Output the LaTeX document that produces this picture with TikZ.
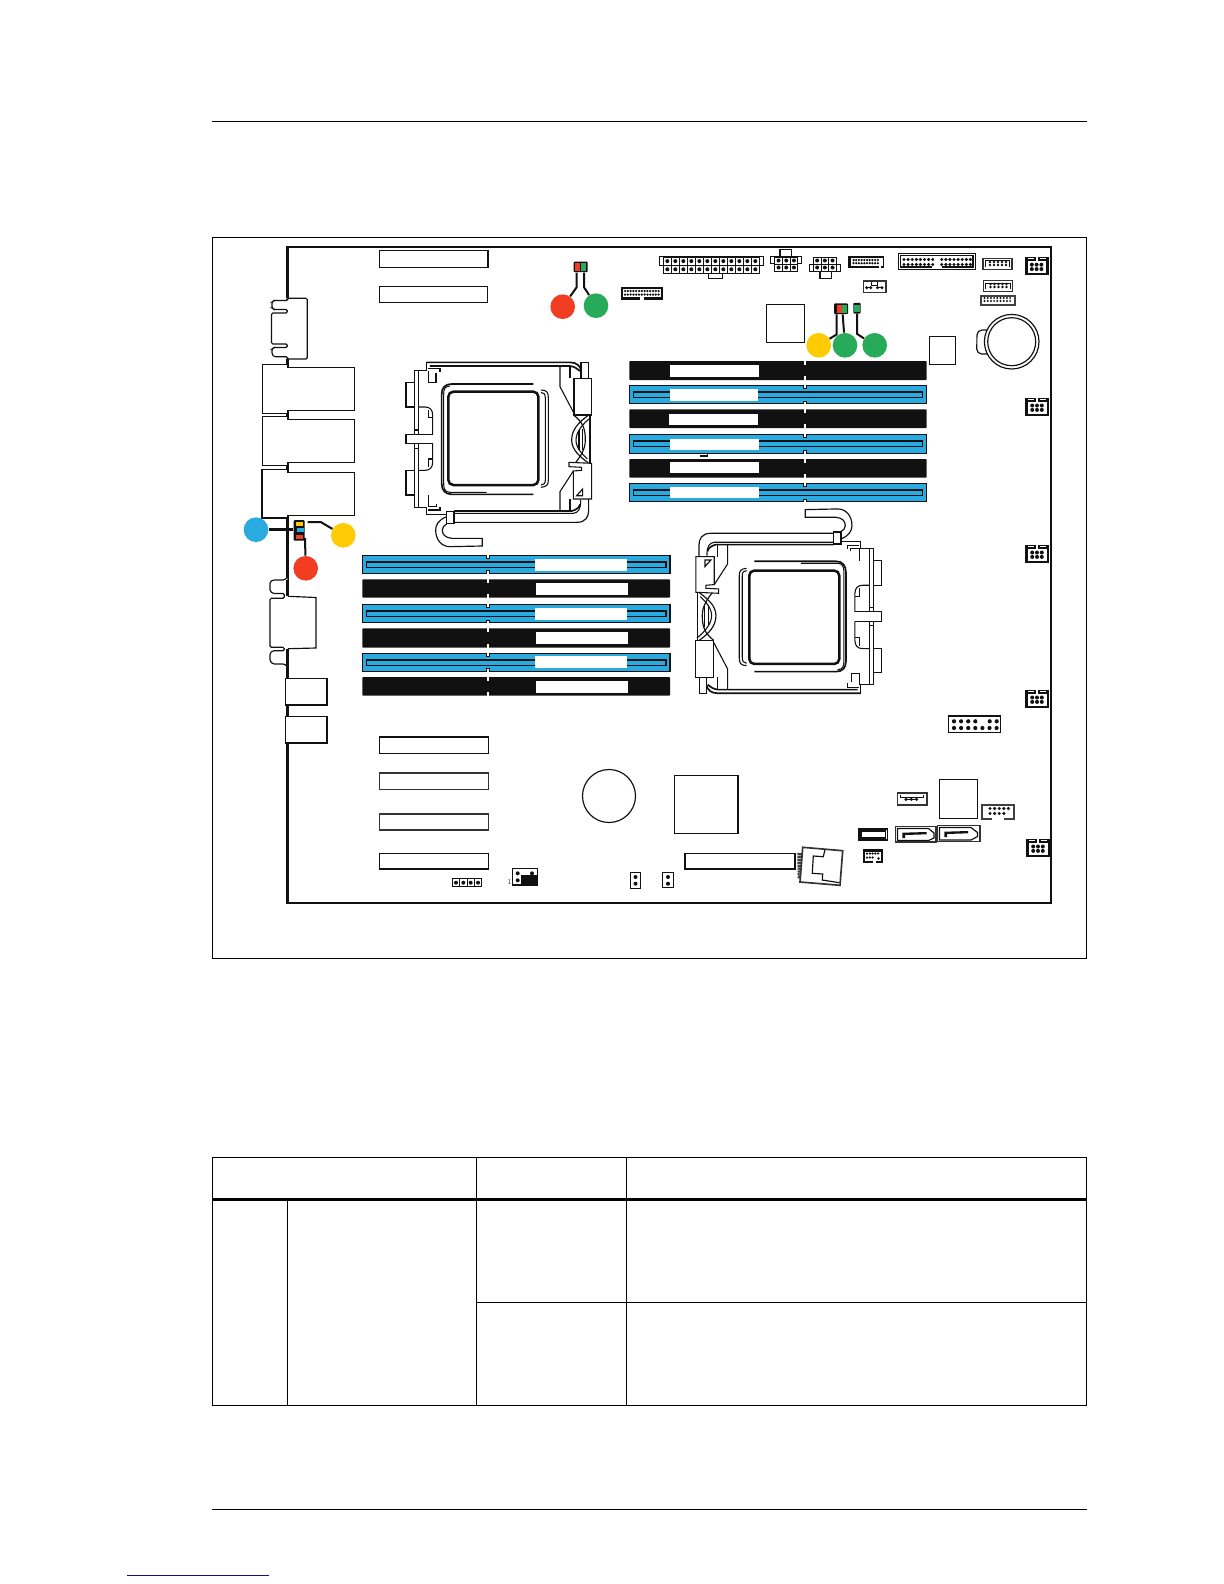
\documentclass[tikz,border=0pt]{standalone}
\usetikzlibrary{calc}
\definecolor{cblue}{RGB}{41,171,226}
\definecolor{cred}{RGB}{241,62,34}
\definecolor{cgreen}{RGB}{39,170,90}
\definecolor{cyel}{RGB}{255,203,5}
\definecolor{cblk}{RGB}{17,17,17}
\definecolor{cnavy}{RGB}{10,20,130}
\tikzset{
  rule/.style={line width=.75pt,draw=black},
  tbl/.style={line width=.75pt,draw=black},
  boardl/.style={line width=1.6pt,draw=cblk},
  thinl/.style={line width=.45pt,draw=cblk},
  midl/.style={line width=.7pt,draw=cblk},
  thickl/.style={line width=1.1pt,draw=cblk},
  grayl/.style={line width=.95pt,draw=black!80},
  sk/.style={line width=.65pt,draw=cblk},
  skb/.style={line width=1pt,draw=cblk},
  lead/.style={line width=1.2pt,draw=cblk},
  callout/.style={circle,minimum size=14.8pt,inner sep=0pt,draw=none},
  ledbox/.style={rectangle,minimum width=#1,minimum height=6.4pt,inner sep=0pt,fill=cblk,rounded corners=.6pt},
  ledbox/.default=8pt,
}
% grid of cells with a pin in each
\newcommand{\cellgrid}[6]{\foreach \i in {1,...,#3}{\foreach \j in {1,...,#4}{%
  \draw[thinl,fill=white] ({#1+(\i-1)*#5},{#2+(\j-1)*#6}) rectangle ++(#5,#6);
  \fill[cblk] ({#1+(\i-.5)*#5},{#2+(\j-.5)*#6}) circle (2);}}}
% pins only: first centre, counts, pitch, radius
\newcommand{\pinset}[7]{\foreach \i in {1,...,#3}{\foreach \j in {1,...,#4}{%
  \fill[cblk] ({#1+(\i-1)*#5},{#2+(\j-1)*#6}) circle (#7);}}}
% fan header, top-left corner
\newcommand{\fanh}[2]{%
  \fill[cblk] (#1,#2) rectangle ++(23.5,18.5);
  \fill[white] ({#1+2.6},{#2+4.2}) rectangle ++(18.6,12);
  \fill[white] ({#1+10.6},{#2}) rectangle ++(2.2,4.4);
  \fill[white] ({#1+3},{#2+1.4}) rectangle ++(6,.8);
  \fill[white] ({#1+14.5},{#2+1.4}) rectangle ++(6,.8);
  \pinset{#1+6.8}{#2+8}{3}{2}{4.8}{4.4}{2}}
% black DIMM  x0 x1 y0 y1 notch  label-x0 label-x1 label-y0 label-y1
\newcommand{\blackdimm}[9]{%
  \fill[cblk,rounded corners=.5pt] (#1,#3) rectangle (#2,#4);
  \fill[white] ({#5-.8},#3) rectangle ({#5+.8},{#3+3.6});
  \fill[white] ({#5-.8},#4) rectangle ({#5+.8},{#4-3.6});
  \fill[white] (#6,#8) rectangle (#7,#9);}
\newcommand{\bluedimm}[9]{%
  \draw[line width=.8pt,draw=cblk,fill=cblue] (#1,#3) rectangle (#2,#4);
  \draw[midl,fill=cblue] ({#1+4},{#3+6.7}) rectangle ({#2-4},{#3+12});
  \draw[thinl,fill=white] ({#5-1.3},{#3-.6}) -- ({#5-1.3},{#3+2.6}) -- ({#5+1.3},{#3+2.6}) -- ({#5+1.3},{#3-.6});
  \draw[thinl,fill=white] ({#5-1.3},{#4+.6}) -- ({#5-1.3},{#4-2.6}) -- ({#5+1.3},{#4-2.6}) -- ({#5+1.3},{#4+.6});
  \fill[white] (#6,#8) rectangle (#7,#9);}
% CPU socket, drawn in crop coordinates
\newcommand{\sockpic}{%
  \draw[skb] (590,382) -- (1020,382) .. controls (1040,382) and (1050,393) .. (1053,405);
  \draw[skb] (600,393) -- (1020,393) .. controls (1032,395) and (1042,400) .. (1050,408);
  \draw[sk] (590,382) -- (590,407) -- (553,407) -- (553,817) -- (590,817) -- (590,838) -- (650,838);
  \draw[sk] (565,407) -- (565,817);
  \draw[sk] (553,585) rectangle (565,640);
  \draw[sk] (595,400) -- (630,400) -- (630,412);
  \draw[sk] (595,407) -- (595,442) -- (618,442) -- (618,415);
  \draw[sk] (595,780) -- (595,815) -- (620,815) -- (620,808);
  \draw[sk] (595,825) -- (630,825) -- (630,815);
  \draw[sk] (553,443) -- (528,443) -- (528,516) -- (553,516);
  \draw[sk] (553,706) -- (528,706) -- (528,780) -- (553,780);
  \draw[sk,fill=white] (608,598) -- (528,598) -- (528,626) -- (608,626);
  \draw[sk] (565,516) -- (585,516) .. controls (600,516) and (608,525) .. (608,540) -- (608,598);
  \draw[sk] (565,706) -- (585,706) .. controls (600,706) and (608,697) .. (608,682) -- (608,626);
  \draw[sk] (595,525) -- (595,548) -- (608,548);
  \draw[sk] (595,697) -- (595,672) -- (608,672);
  % heat-spreader outline
  \draw[skb] (910,447) -- (665,447) .. controls (645,447) and (635,458) .. (635,478) -- (635,745) .. controls (635,765) and (645,778) .. (665,778) -- (910,778);
  \draw[sk] (660,453) .. controls (645,453) and (641,462) .. (641,478) -- (641,745) .. controls (641,762) and (645,772) .. (660,772) -- (770,772);
  \draw[sk] (933,465) .. controls (950,465) and (955,472) .. (955,488) -- (955,735) .. controls (955,750) and (950,755) .. (933,757);
  \draw[sk] (933,472) .. controls (942,472) and (946,478) .. (946,490) -- (946,735) .. controls (946,745) and (942,750) .. (933,750);
  \draw[line width=1.5pt,draw=cblk,rounded corners=3pt] (655,470) rectangle (925,750);
  % right side and levers
  \draw[sk] (990,393) -- (990,455) -- (1032,535);
  \draw[sk] (1020,393) -- (1020,430);
  \draw[sk,fill=white] (1053,382) rectangle (1075,430);
  \draw[sk,fill=white] (1032,430) rectangle (1085,540);
  \draw[sk] (1080,540) -- (1080,684);
  \draw[sk] (1047,585) -- (1047,646);
  \draw[sk] (1058,582) -- (1058,646);
  \draw[midl] (1032,541) .. controls (1058,562) and (1066,580) .. (1066,615) .. controls (1066,645) and (1050,665) .. (1036,684);
  \draw[midl] (1075,541) .. controls (1045,562) and (1025,585) .. (1025,615) .. controls (1025,645) and (1050,665) .. (1075,684);
  \draw[sk] (1082,548) .. controls (1060,565) and (1038,590) .. (1038,615) .. controls (1038,640) and (1058,658) .. (1072,672);
  \draw[sk,fill=white] (1017,682) -- (1085,685) -- (1085,792) -- (1030,792) -- (1030,708) -- (1055,706) -- (1055,697) -- (1017,695) -- cycle;
  \draw[sk] (1030,708) -- (990,770) -- (990,828);
  \draw[sk] (1020,792) -- (1020,828);
  \draw[midl] (1040,782) -- (1058,762) -- (1058,782) -- cycle;
  % bottom bar and handle
  \draw[skb] (672,828) -- (1025,828) .. controls (1038,825) and (1048,818) .. (1050,808);
  \draw[sk] (672,835) -- (1030,835) .. controls (1045,832) and (1052,825) .. (1052,795);
  \draw[midl] (672,862) -- (1040,862) .. controls (1068,862) and (1076,845) .. (1076,825) -- (1076,792);
  \draw[midl,fill=white] (650,830) rectangle (672,866);
  \draw[midl] (650,845) .. controls (625,855) and (617,870) .. (617,885) .. controls (617,915) and (635,935) .. (660,935) -- (757,933) -- (757,910) -- (665,910) .. controls (645,908) and (637,898) .. (637,885) .. controls (637,878) and (642,870) .. (650,867);
}
\begin{document}
\begin{tikzpicture}[x=.6pt,y=-.6pt]
\useasboundingbox (0,0) rectangle (1224,1584);
\fill[white] (0,0) rectangle (1224,1584);
% page rules
\draw[rule] (212,121.3) -- (1087,121.3);
\draw[rule] (212,1509.3) -- (1087,1509.3);
\draw[line width=.85pt,draw=cnavy] (127,1575.3) -- (269,1575.3);
% figure frame
\draw[line width=.65pt,draw=black] (212.3,237.3) rectangle (1086.7,958.3);
% board outline
\draw[boardl] (287.8,298.3) -- (287.8,247) -- (1051,247) -- (1051,903) -- (287.8,903) -- (287.8,743.3);
\draw[boardl] (287.8,359) -- (287.8,367.3);
\draw[boardl] (287.8,410.3) -- (287.8,419.7);
\draw[boardl] (287.8,462.7) -- (287.8,472.3);
\draw[boardl] (287.8,515.7) -- (287.8,580);
\draw[boardl] (287.8,664) -- (287.8,678.3);
\draw[boardl] (287.8,705) -- (287.8,716.7);
% rear connectors
\draw[midl,fill=white,rounded corners=.8pt] (287.3,298.3) -- (307.3,298.3) -- (307.3,359) -- (287.3,359) -- (287.3,356.7) -- (274,356.7) -- (272,354) -- (272,349) -- (274,347.5) -- (287.3,347.5) -- (287.3,344) -- (271.5,344) -- (271.5,313) -- (287.3,313) -- (287.3,309.5) -- (274,309.5) -- (272,308) -- (272,302) -- (274,300.5) -- (287.3,300.5) -- cycle;
\foreach \a/\b/\c/\d in {364.3/367.3/410.3/413.3, 416.7/419.7/462.7/465.3, 469.3/472.3/515.7/518.3}{
  \draw[midl,fill=white] (262.3,\a) -- (287.3,\a) -- (287.3,\b) -- (354.3,\b) -- (354.3,\c) -- (287.3,\c) -- (287.3,\d) -- (262.3,\d) -- cycle;}
\draw[thickl] (262.3,469.3) -- (262.3,518.3) -- (287.3,518.3);
\draw[midl,fill=white,rounded corners=.8pt] (287.3,577.5) -- (284.3,580) -- (273,580) -- (270,582) -- (270,591) -- (273,593.5) -- (284.3,593.5) -- (284.3,598.3) -- (270,598.3) -- (270,647.3) -- (284.3,647.3) -- (284.3,650.7) -- (273,650.7) -- (270,653) -- (270,661) -- (273,664) -- (284.3,664) -- (287.3,666.5);
\draw[midl,fill=white] (287.8,596.3) -- (316,597.5) -- (316,648) -- (287.8,648.7);
\draw[boardl] (287.8,580) -- (287.8,596);
\draw[boardl] (287.8,649) -- (287.8,666);
\draw[thinl,fill=white] (285.7,678.3) rectangle (327.3,705);
\draw[thickl] (327.3,678.3) -- (327.3,705) -- (285.7,705);
\draw[thinl,fill=white] (285.7,716.7) rectangle (327.3,743.3);
\draw[thickl] (327.3,716.7) -- (327.3,743.3) -- (285.7,743.3);
% slots
\draw[line width=.95pt,draw=cblk,fill=white] (379.7,250.7) rectangle (488,267.3);
\draw[midl,fill=white] (379.7,286.3) rectangle (487.7,302.3);
\draw[line width=.95pt,draw=cblk,fill=white] (379.3,736.7) rectangle (488.7,753.3);
\draw[grayl,fill=white] (379.3,772.7) rectangle (488.7,789.3);
\draw[grayl,fill=white] (379.3,813.7) rectangle (488.7,829.7);
\draw[line width=.95pt,draw=cblk,fill=white] (379.3,853.3) rectangle (488.7,869);
\draw[line width=.95pt,draw=cblk,fill=white] (685,853.3) rectangle (795,869);
% sockets
\begin{scope}[shift={(230,235)},x=.2pt,y=-.2pt]\sockpic\end{scope}
\begin{scope}[shift={(1057.6,820.6)},x=-.2pt,y=.2pt]\sockpic\end{scope}
% upper DIMMs
\blackdimm{629.3}{926.7}{361}{380}{805}{670}{758.7}{365}{377}
\bluedimm{629.3}{926.7}{385.3}{403.7}{805}{670}{757.7}{389}{401}
\blackdimm{629.3}{926.7}{409.3}{428}{805}{669}{757.7}{414}{425}
\bluedimm{629.3}{926.7}{434.3}{453.3}{805}{670}{758.7}{439}{450}
\blackdimm{629.3}{926.7}{459}{477.7}{805}{670}{758.7}{462}{473}
\bluedimm{629.3}{926.7}{483.3}{501.7}{805}{670}{758.7}{486.7}{498}
\draw[midl] (700,456) -- (707.5,456) -- (707.5,453.6);
% lower DIMMs
\bluedimm{362.3}{670}{555.3}{573.3}{487.7}{534.5}{627}{558.7}{570.5}
\blackdimm{362.3}{670}{579.3}{597.7}{487.7}{535.5}{628}{583}{595}
\bluedimm{362.3}{670}{604.3}{622.7}{487.7}{534.5}{627}{608}{620}
\blackdimm{362.3}{670}{628.3}{647.7}{487.7}{535.5}{628}{632}{644}
\bluedimm{362.3}{670}{653.3}{671.3}{487.7}{534.5}{627}{656}{668}
\blackdimm{362.3}{670}{677}{695.7}{487.7}{535.5}{628}{680.5}{692.5}
% top connectors
\draw[thinl,fill=white] (659.3,256.3) rectangle (763.3,265);
\draw[midl,fill=white] (708.3,273) rectangle (722.7,278.3);
\cellgrid{663.3}{257}{12}{2}{8}{8.2}
\draw[midl,fill=white] (780,249.7) rectangle (791.7,256.5);
\draw[thinl,fill=white] (770.7,256.3) rectangle (801.3,263.3);
\cellgrid{774.7}{257}{3}{2}{7.7}{7}
\draw[midl,fill=white] (820,271) rectangle (831.7,278.3);
\draw[thinl,fill=white] (809.3,264) rectangle (840.7,271);
\cellgrid{813.3}{257}{3}{2}{7.7}{7}
\fill[cblk] (848.3,256.3) rectangle (884,268.3);
\fill[white] (851,258) rectangle (882.5,266);
\fill[white] (878.5,258) rectangle (880.5,268.3);
\pinset{853.5}{260}{10}{2}{2.7}{3.2}{1.25}
\fill[cblk] (621,287) rectangle (662.7,300);
\fill[white] (622.8,288.8) rectangle (661,297);
\fill[white] (640,296) rectangle (644,300);
\pinset{625}{291}{13}{2}{2.8}{3.6}{1.25}
\draw[line width=.5pt,draw=cblk,fill=white] (898.3,253.3) rectangle (975.7,269.3);
\draw[midl] (931.7,267) -- (900.9,267) -- (900.9,255.9) -- (973,255.9) -- (973,267) -- (941.7,267);
\pinset{904}{259.5}{8}{2}{4.1}{5}{1.7}
\pinset{941.7}{259.5}{8}{2}{4.1}{5}{1.7}
\draw[grayl,fill=white] (982.7,258.3) rectangle (1011.7,269.3);
\draw[thinl] (985,267) -- (985,260.3) -- (1009,260.3) -- (1009,267);
\pinset{990}{262}{5}{2}{4}{3}{1.35}
\draw[grayl,fill=white] (983.3,280.7) rectangle (1012.3,291.7);
\draw[thinl] (985.5,289) -- (985.5,283) -- (1010,283) -- (1010,289);
\pinset{990.5}{284}{5}{2}{4}{3}{1.35}
\draw[line width=1.2pt,draw=black!75,fill=white] (980.5,295.5) rectangle (1015,304.7);
\pinset{984.5}{298}{9}{2}{3.2}{3}{1.1}
\draw[grayl,fill=white] (863.3,281) rectangle (885.7,292.3);
\draw[thinl] (871.7,282) -- (871.7,285) -- (877.5,285) -- (877.5,282);
\pinset{866.7}{287.7}{2}{1}{4}{1}{1.7}
\pinset{877.5}{287.7}{2}{1}{4.4}{1}{1.7}
\draw[thinl] (866.7,287.7) -- (870.7,287.7) (877.5,287.7) -- (881.9,287.7);
\fanh{1025}{256.7}
\fanh{1025.4}{397.5}
\fanh{1025.4}{544.5}
\fanh{1025.4}{689.5}
\fanh{1026.4}{838.5}
% chips and battery
\draw[midl,fill=white] (766.3,304.3) rectangle (804.3,342.7);
\draw[midl,fill=white] (929.3,336.3) rectangle (955.7,364.3);
\draw[midl,rounded corners=3pt] (988,330) -- (977,330) -- (976.7,354) -- (988,354);
\draw[midl,fill=white] (1011.7,341.7) circle (27.3);
\draw[midl,fill=white] (1011.7,341.7) circle (24);
\draw[midl,fill=white] (609,796) circle (26.5);
\draw[midl,fill=white] (674.3,775.3) rectangle (738,833.3);
\draw[midl,fill=white] (939.3,779.3) rectangle (977.7,818.3);
% lower connectors
\draw[midl,fill=white] (948.3,716) rectangle (1000.7,732.3);
\pinset{954}{721.3}{4}{1}{7.1}{1}{2.1}
\pinset{989.7}{721.3}{2}{1}{7}{1}{2.1}
\pinset{954}{728}{7}{1}{7.1}{1}{2.1}
\draw[grayl,fill=white] (897.3,792.7) rectangle (926.7,805);
\draw[thinl] (900,794.5) -- (900,797.5) -- (923.5,797.5) -- (923.5,794.5);
\pinset{906}{799.3}{3}{1}{5.3}{1}{1.7}
\draw[thinl] (906,799.3) -- (916.6,799.3);
\draw[line width=1.2pt,draw=black!75,fill=white] (981.8,804.5) rectangle (1014.2,818.8);
\fill[white] (992,817) rectangle (1004,820);
\pinset{990}{808.5}{5}{1}{4.6}{1}{1.7}
\pinset{990}{813.5}{4}{1}{4.6}{1}{1.7}
\fill[cblk] (858.3,828.3) rectangle (887.7,840.7);
\fill[white] (861.7,831.7) rectangle (885.3,837.3);
\fill[white] (885.6,830) rectangle (886.4,839);
\draw[grayl,fill=white] (895.5,826.5) rectangle (935.8,842.2);
\draw[midl] (897.5,828.5) -- (928.5,828.5) -- (934,833) -- (934,838) -- (928.5,840.5) -- (897.5,840.5) -- cycle;
\fill[cblk] (902.3,832.7) -- (926.7,832) -- (926.7,834.3) -- (905,835) -- (905,838) -- (902.3,838) -- cycle;
\draw[grayl,fill=white] (937.5,825.3) rectangle (979.7,841.5);
\draw[midl] (939.5,827.5) -- (971,827.5) -- (977.5,832.5) -- (977.5,836.5) -- (971,840) -- (939.5,840) -- cycle;
\fill[cblk] (944.3,831.7) -- (968,831) -- (968,833.3) -- (947,834) -- (947,837) -- (944.3,837) -- cycle;
\fill[cblk] (862.7,849) rectangle (883.3,863.3);
\fill[white] (864.8,851.5) rectangle (881.3,861);
\fill[white] (873,860) rectangle (875.5,863.3);
\pinset{867}{853.5}{5}{1}{2.8}{1}{1.25}
\pinset{867}{857.5}{3}{1}{2.8}{1}{1.25}
\pinset{878.5}{858.5}{1}{1}{1}{1}{1.4}
% angled LAN jack
\foreach \q in {0,...,8}{\draw[line width=1.35pt,draw=cblk!80] ({797.3+\q*.05},{854+\q*2.9}) -- ({806+\q*.05},{854.5+\q*2.9});}
\draw[line width=1pt,draw=black!80,fill=white] (802.7,847.3) -- (842.7,850.7) -- (840,885.3) -- (800,882) -- cycle;
\draw[midl] (825,849.5) -- (823.3,856.7) -- (813.3,856) -- (812.3,873.3) -- (822.7,874) -- (822.3,880) -- (839.3,882.7);
% jumpers
\cellgrid{452.3}{878.7}{4}{1}{7.35}{8}
\draw[midl,fill=white] (512.3,868.7) rectangle (537.7,885);
\fill[cblk] (521,875) rectangle (537.7,885);
\fill[white] (525.5,870) rectangle (536,875);
\pinset{517.7}{873.3}{1}{2}{1}{7}{2}
\pinset{532}{873.3}{1}{1}{1}{1}{2}
\node[inner sep=0pt,font=\fontsize{4.5pt}{5pt}\selectfont,text=black!70] (pinone) at (509.3,882.3) {1};
\draw[midl,fill=white] (630.3,872.7) rectangle (640.7,888.3);
\pinset{635.5}{877}{1}{2}{1}{6.7}{2}
\draw[midl,fill=white] (662.3,872.7) rectangle (673.7,887.3);
\pinset{668}{877}{1}{2}{1}{6.7}{2}
% LEDs
\node[ledbox=8.4pt] (ledtop) at (580.7,266.9) {};
\fill[cred] (575,263.3) rectangle (579.7,270.5);
\fill[cgreen] (581,263.3) rectangle (586.3,270.5);
\node[ledbox=8.4pt] (ledmid) at (841,308.8) {};
\fill[cred] (837,305) rectangle (841.7,312.5);
\fill[cgreen] (842.3,305) rectangle (847,312.5);
\node[ledbox=4.4pt] (ledgr) at (857,308.2) {};
\fill[cgreen] (854.3,304.5) rectangle (859.5,312);
\node[rectangle,minimum width=6.6pt,minimum height=12.4pt,inner sep=0pt,fill=cblk,rounded corners=.6pt] (ledrear) at (299.2,530.4) {};
\fill[cyel] (296,522) rectangle (303,526);
\fill[cblue] (297,527.7) rectangle (303.5,532.3);
\fill[cred] (296,534.7) rectangle (303,539);
% callouts
\node[callout,fill=cred]   (cA) at (562.7,306.7) {};
\node[callout,fill=cgreen] (cB) at (596,305.7) {};
\node[callout,fill=cyel]   (cC) at (818.7,345.3) {};
\node[callout,fill=cgreen] (cD) at (845,345.3) {};
\node[callout,fill=cgreen] (cE) at (874.7,345.3) {};
\node[callout,fill=cblue]  (cF) at (256,529.7) {};
\node[callout,fill=cyel]   (cG) at (343.3,535.3) {};
\node[callout,fill=cred]   (cH) at (305.7,568.3) {};
% leads
\draw[lead] ([xshift=-2.4pt]ledtop.south) -- ++(0,-8.8pt) -- (cA);
\draw[lead] ([xshift=2pt]ledtop.south) -- ++(0,-8.8pt) -- (cB);
\draw[lead] ([xshift=-2.6pt]ledmid.south) -- ++(0,-12pt) -- (cC);
\draw[lead] ([xshift=1pt]ledmid.south) -- (cD);
\draw[lead] (ledgr.south) -- ++(0,-12pt) -- (cE);
\draw[line width=1.6pt,draw=cblk] (cF) -- (ledrear.west |- cF);
\coordinate (leadG) at (307.7,522);
\draw[lead] (leadG) -- ++(13,0) -- (cG);
\coordinate (leadH) at (305,538);
\draw[lead] (leadH) -- (cH);
% table
\draw[tbl] (212.3,1157.3) -- (1086.7,1157.3);
\draw[line width=1.65pt,draw=black] (211.5,1199.3) -- (1087,1199.3);
\draw[tbl] (476.7,1302.7) -- (1086.7,1302.7);
\draw[tbl] (211.5,1405.3) -- (1086.7,1405.3);
\draw[tbl] (212.3,1157.3) -- (212.3,1405.3);
\draw[tbl] (287.3,1199.3) -- (287.3,1405.3);
\draw[tbl] (476.7,1157.3) -- (476.7,1405.3);
\draw[tbl] (626.7,1157.3) -- (626.7,1405.3);
\draw[tbl] (1086.7,1157.3) -- (1086.7,1405.3);
\end{tikzpicture}
\end{document}
